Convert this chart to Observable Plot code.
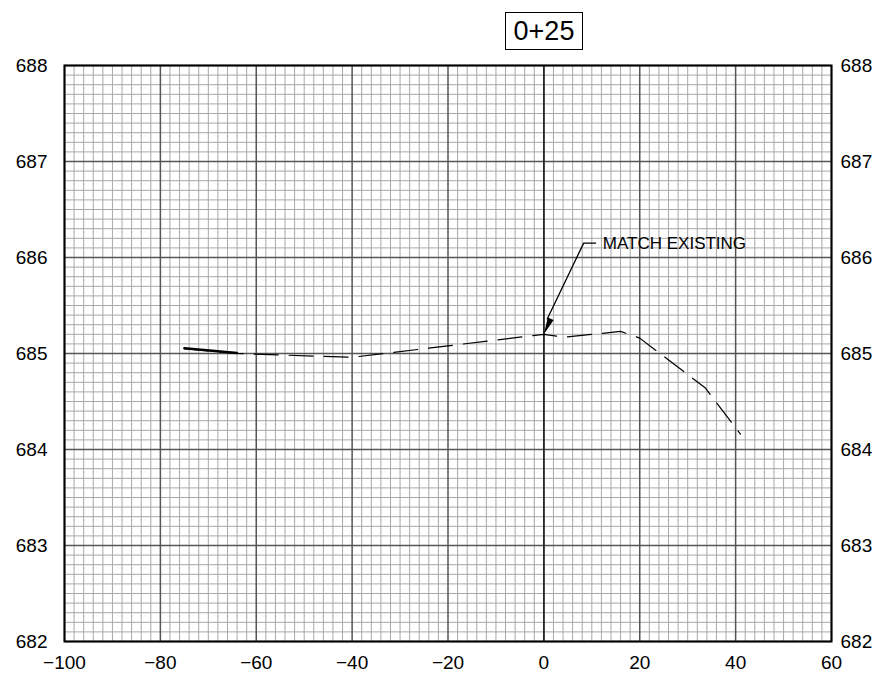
<!DOCTYPE html>
<html>
<head>
<meta charset="utf-8">
<script src="https://cdn.jsdelivr.net/npm/d3@7"></script>
<script src="https://cdn.jsdelivr.net/npm/@observablehq/plot@0.6"></script>
<style>
  html, body { margin: 0; padding: 0; background: #fff; }
  #wrap { position: relative; width: 879px; height: 674px; }
  #title {
    position: absolute; left: 505px; top: 12px; width: 76px; height: 36px;
    border: 1.5px solid #000; font-family: "Liberation Sans", Arial, sans-serif;
    font-size: 27px; line-height: 36px; text-align: center; color: #000;
  }
</style>
</head>
<body>
<div id="wrap"><div id="title">0+25</div></div>
<script>
// Station title
const stationLabel = "0+25";

// Axis ticks
const xTicks = [-100, -80, -60, -40, -20, 0, 20, 40, 60];
const yTicks = [682, 683, 684, 685, 686, 687, 688];

// Existing ground (dashed)
const existX = [-75, -64, -40, 0, 4.2, 16, 20, 33.7, 41];
const existY = [685.05, 685.0, 684.96, 685.2, 685.17, 685.23, 685.16, 684.64, 684.16];

// Proposed (short solid segment)
const propX = [-75, -64];
const propY = [685.055, 685.005];

// Annotation
const noteText = "MATCH EXISTING";
const leaderX = [10.8, 8.3, 0.7];
const leaderY = [686.15, 686.15, 685.36];
const tipX = [0];
const tipY = [685.2];

const existing = existX.map((x, i) => ({x, y: existY[i]}));
const proposed = propX.map((x, i) => ({x, y: propY[i]}));
const leader = leaderX.map((x, i) => ({x, y: leaderY[i]}));
const tip = tipX.map((x, i) => ({x, y: tipY[i]}));

const minorX = d3.range(-100, 61, 2).filter(v => v % 20 !== 0);
const minorY = d3.range(6820, 6881, 1).filter(v => v % 10 !== 0).map(v => v / 10);

// narrow arrowhead symbol, tip at origin pointing up
const arrowHead = {
  draw(ctx, size) {
    ctx.moveTo(0, 0);
    ctx.lineTo(-3.2, 17);
    ctx.lineTo(3.2, 17);
    ctx.closePath();
  }
};

const chart = Plot.plot({
  width: 879,
  height: 674,
  marginLeft: 64,
  marginRight: 48,
  marginTop: 65,
  marginBottom: 33,
  style: {fontFamily: "Liberation Sans, Arial, sans-serif", fontSize: "19px", color: "#000", background: "#fff"},
  x: {domain: [-100, 60]},
  y: {domain: [682, 688]},
  marks: [
    Plot.ruleX(minorX, {stroke: "#a8a8a8", strokeWidth: 1}),
    Plot.ruleY(minorY, {stroke: "#a8a8a8", strokeWidth: 1}),
    Plot.ruleX(xTicks, {stroke: "#555", strokeWidth: 1.5}),
    Plot.ruleY(yTicks, {stroke: "#555", strokeWidth: 1.5}),
    Plot.ruleX([0], {stroke: "#222", strokeWidth: 1.6}),
    Plot.frame({stroke: "#000", strokeWidth: 2}),
    Plot.axisX({anchor: "bottom", ticks: xTicks, tickSize: 0, tickPadding: 14, label: null, tickFormat: "d"}),
    Plot.axisY({anchor: "left", ticks: yTicks, tickSize: 0, tickPadding: 17, label: null, tickFormat: "d"}),
    Plot.axisY({anchor: "right", ticks: yTicks, tickSize: 0, tickPadding: 9, label: null, tickFormat: "d"}),
    Plot.line(existing, {x: "x", y: "y", stroke: "#000", strokeWidth: 1.2, strokeDasharray: "24,11"}),
    Plot.line(proposed, {x: "x", y: "y", stroke: "#000", strokeWidth: 2.4}),
    Plot.line(leader, {x: "x", y: "y", stroke: "#000", strokeWidth: 1.3}),
    Plot.dot(tip, {x: "x", y: "y", symbol: arrowHead, r: 5, fill: "#000", stroke: "none", rotate: 203.6}),
    Plot.text([noteText], {x: 12.3, y: 686.15, text: d => d, textAnchor: "start", fontSize: 17, fill: "#000"})
  ]
});

document.getElementById("wrap").prepend(chart);
document.getElementById("title").textContent = stationLabel;
</script>
</body>
</html>
